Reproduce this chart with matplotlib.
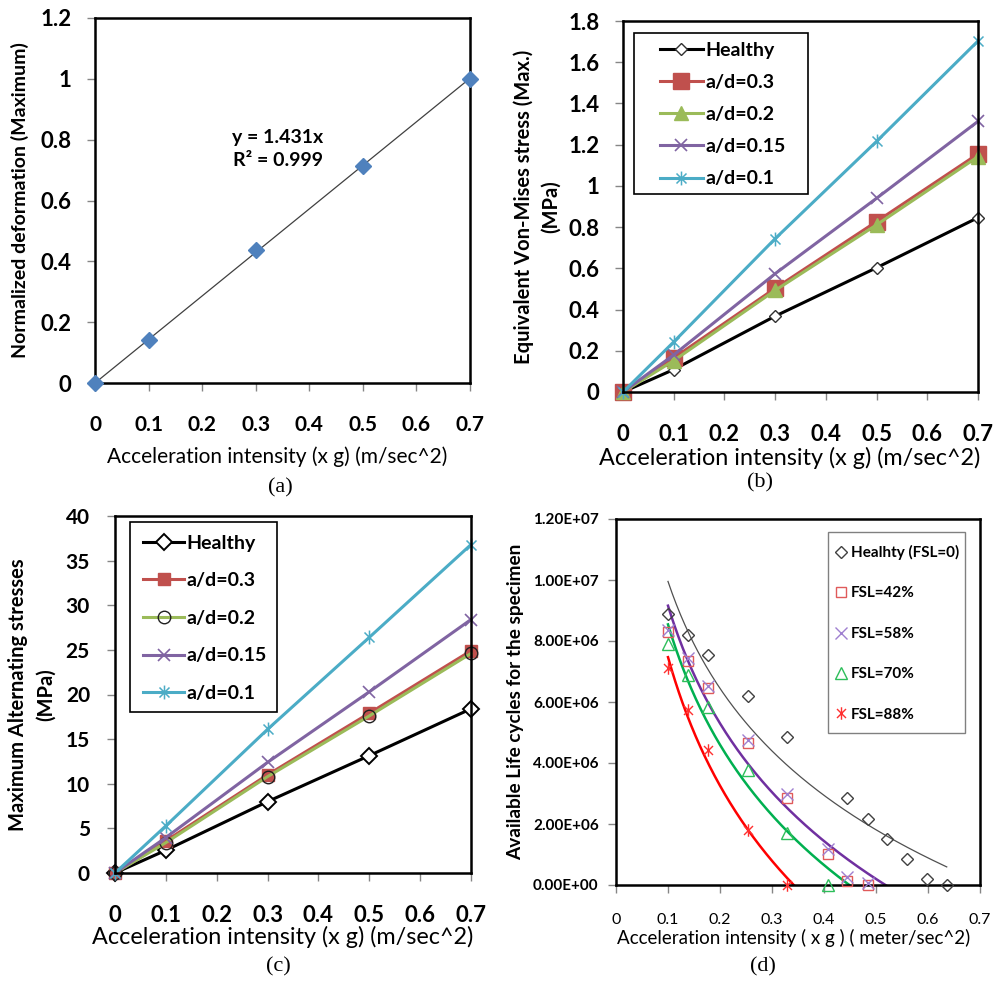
import numpy as np
import matplotlib
matplotlib.use('Agg')
import matplotlib.pyplot as plt
from matplotlib.patches import Rectangle
from matplotlib.path import Path

# ---------------- data ----------------
# (a) normalized deformation
a_x = [0, 0.1, 0.3, 0.5, 0.7]
a_y = [0, 0.142, 0.438, 0.714, 1.0]
a_slope = 1.431
a_r2 = 0.999

# (b) equivalent Von-Mises stress (MPa)
bc_x = [0, 0.1, 0.3, 0.5, 0.7]
b_healthy = [0, 0.109, 0.368, 0.603, 0.846]
b_ad03 = [0, 0.165, 0.503, 0.827, 1.155]
b_ad02 = [0, 0.152, 0.493, 0.811, 1.142]
b_ad015 = [0, 0.180, 0.574, 0.940, 1.313]
b_ad01 = [0, 0.243, 0.744, 1.216, 1.703]

# (c) maximum alternating stresses (MPa)
c_healthy = [0, 2.55, 8.0, 13.15, 18.4]
c_ad03 = [0, 3.6, 11.0, 17.9, 24.9]
c_ad02 = [0, 3.4, 10.8, 17.6, 24.6]
c_ad015 = [0, 3.97, 12.4, 20.3, 28.4]
c_ad01 = [0, 5.28, 16.1, 26.4, 36.8]
series_labels = ['Healthy', 'a/d=0.3', 'a/d=0.2', 'a/d=0.15', 'a/d=0.1']

# (d) available life cycles
d_labels = ['Healhty (FSL=0)', 'FSL=42%', 'FSL=58%', 'FSL=70%', 'FSL=88%']
d_x_healthy = [0.1, 0.138, 0.177, 0.253, 0.329, 0.445, 0.484, 0.521, 0.559, 0.598, 0.636]
d_y_healthy = [8.87e6, 8.21e6, 7.53e6, 6.19e6, 4.86e6, 2.86e6, 2.18e6, 1.52e6, 0.84e6, 0.19e6, 0.0]
d_x_42 = [0.1, 0.138, 0.177, 0.253, 0.329, 0.407, 0.445, 0.484]
d_y_42 = [8.29e6, 7.34e6, 6.46e6, 4.64e6, 2.84e6, 1.03e6, 0.13e6, 0.0]
d_x_58 = [0.1, 0.138, 0.177, 0.253, 0.329, 0.407, 0.445, 0.484]
d_y_58 = [8.37e6, 7.45e6, 6.52e6, 4.75e6, 2.99e6, 1.17e6, 0.26e6, 0.08e6]
d_x_70 = [0.1, 0.138, 0.177, 0.253, 0.329, 0.407]
d_y_70 = [7.91e6, 6.9e6, 5.84e6, 3.77e6, 1.71e6, 0.0]
d_x_88 = [0.1, 0.138, 0.177, 0.253, 0.329]
d_y_88 = [7.1e6, 5.73e6, 4.42e6, 1.79e6, 0.0]

x_ticks = [0, 0.1, 0.2, 0.3, 0.4, 0.5, 0.6, 0.7]
x_ticklabels = ['0', '0.1', '0.2', '0.3', '0.4', '0.5', '0.6', '0.7']
a_yticks = [0, 0.2, 0.4, 0.6, 0.8, 1.0, 1.2]
a_yticklabels = ['0', '0.2', '0.4', '0.6', '0.8', '1', '1.2']
b_yticks = [0, 0.2, 0.4, 0.6, 0.8, 1.0, 1.2, 1.4, 1.6, 1.8]
b_yticklabels = ['0', '0.2', '0.4', '0.6', '0.8', '1', '1.2', '1.4', '1.6', '1.8']
c_yticks = [0, 5, 10, 15, 20, 25, 30, 35, 40]
d_yticks = [0, 2e6, 4e6, 6e6, 8e6, 1e7, 1.2e7]
d_yticklabels = ['0.00E+00', '2.00E+06', '4.00E+06', '6.00E+06', '8.00E+06', '1.00E+07', '1.20E+07']

# ---------------- style ----------------
plt.rcParams['font.family'] = ['Lato', 'DejaVu Sans']

BLUE = '#4F81BD'
RED = '#C0504D'
GREEN = '#9BBB59'
PURPLE = '#8064A2'
CYAN = '#4BACC6'
# Excel-like asterisk: a cross plus a vertical bar
ASTER = Path([(0, -1), (0, 1), (-0.72, -0.72), (0.72, 0.72), (-0.72, 0.72), (0.72, -0.72)],
             [Path.MOVETO, Path.LINETO, Path.MOVETO, Path.LINETO, Path.MOVETO, Path.LINETO])

fig = plt.figure(figsize=(10, 9.82), dpi=100)
W, H = 1000.0, 982.0


def px_axes(l, t, r, b):
    return fig.add_axes([l / W, 1 - b / H, (r - l) / W, (b - t) / H])


def style(ax, xpad, ypad, xfs, yfs, xweight='bold', yweight='bold'):
    for s in ax.spines.values():
        s.set_linewidth(1.8)
        s.set_color('black')
    ax.tick_params(direction='out', length=6, width=1, color='#868686')
    ax.tick_params(axis='x', pad=xpad)
    ax.tick_params(axis='y', pad=ypad)
    for t in ax.get_xticklabels():
        t.set_fontsize(xfs)
        t.set_fontweight(xweight)
    for t in ax.get_yticklabels():
        t.set_fontsize(yfs)
        t.set_fontweight(yweight)


def frame_box(ax, x0, y0, x1, y1, color='black', lw=1.2):
    ax.add_patch(Rectangle((x0, y0), x1 - x0, y1 - y0, transform=ax.transAxes,
                           facecolor='white', edgecolor=color, lw=lw, zorder=8,
                           clip_on=False))


# ---------------- (a) ----------------
axA = px_axes(95, 18, 470, 383)
xs = np.array([0, 0.7])
axA.plot(xs, a_slope * xs, color='#404040', lw=0.9, zorder=2)
axA.plot(a_x, a_y, ls='none', marker='D', ms=8, color=BLUE, mec=BLUE, zorder=3, clip_on=False)
axA.set_xlim(0, 0.7)
axA.set_ylim(0, 1.2)
axA.set_xticks(x_ticks, x_ticklabels)
axA.set_yticks(a_yticks, a_yticklabels)
style(axA, 17, 11, 15, 16)
axA.text(0.488, 0.641, f'y = {a_slope}x\nR² = {a_r2}', transform=axA.transAxes,
         ha='center', va='center', fontsize=14, fontweight='bold', linespacing=1.45)
axA.set_xlabel('Acceleration intensity (x g) (m/sec^2)', fontsize=15)
axA.xaxis.label.set_va('center')
axA.xaxis.set_label_coords(0.487, -0.203)
axA.set_ylabel('Normalized deformation (Maximum)', fontsize=14, fontweight='bold')
axA.yaxis.label.set_va('center')
axA.yaxis.set_label_coords(-0.2, 0.5)

# ---------------- (b) ----------------
axB = px_axes(623, 21, 978, 392)
hb = []
hb += axB.plot(bc_x, b_healthy, color='black', lw=2.2, marker='D', ms=6, mfc='white', mec='#303030', mew=1, clip_on=False)
hb += axB.plot(bc_x, b_ad03, color=RED, lw=2.2, marker='s', ms=11, mfc=RED, mec=RED, clip_on=False)
hb += axB.plot(bc_x, b_ad02, color=GREEN, lw=2.2, marker='^', ms=10, mfc=GREEN, mec=GREEN, clip_on=False)
hb += axB.plot(bc_x, b_ad015, color=PURPLE, lw=2.2, marker='x', ms=9, mec=PURPLE, mew=1.2, clip_on=False)
hb += axB.plot(bc_x, b_ad01, color=CYAN, lw=2.2, marker=ASTER, ms=10, mec=CYAN, mew=1.1, clip_on=False)
axB.set_xlim(0, 0.7)
axB.set_ylim(0, 1.8)
axB.set_xticks(x_ticks, x_ticklabels)
axB.set_yticks(b_yticks, b_yticklabels)
style(axB, 17, 11, 16, 16)
axB.set_xlabel('Acceleration intensity (x g) (m/sec^2)', fontsize=16.8)
axB.xaxis.label.set_va('center')
axB.xaxis.set_label_coords(0.468, -0.178)
axB.set_ylabel('Equivalent Von-Mises stress (Max.)\n(MPa)', fontsize=14.5, fontweight='bold', linespacing=1.45)
axB.yaxis.label.set_va('center')
axB.yaxis.set_label_coords(-0.242, 0.5)
frame_box(axB, 0.031, 0.534, 0.521, 0.968)
legB = axB.legend(hb, series_labels, loc='upper left', bbox_to_anchor=(0.104, 0.944),
                  frameon=False, borderpad=0, borderaxespad=0, handlelength=2.2,
                  handletextpad=0.15, labelspacing=0.78, prop={'size': 14, 'weight': 'bold'})
legB.set_zorder(9)

# ---------------- (c) ----------------
axC = px_axes(115, 516, 471, 873)
hc = []
hc += axC.plot(bc_x, c_healthy, color='black', lw=2.2, marker='D', ms=8, mfc='white', mec='black', mew=1.4, clip_on=False)
hc += axC.plot(bc_x, c_ad03, color=RED, lw=2.2, marker='s', ms=8, mfc=RED, mec=RED, clip_on=False)
hc += axC.plot(bc_x, c_ad02, color=GREEN, lw=2.2, marker='o', ms=9, mfc='none', mec='#202020', mew=1, clip_on=False)
hc += axC.plot(bc_x, c_ad015, color=PURPLE, lw=2.2, marker='x', ms=9, mec=PURPLE, mew=1.2, clip_on=False)
hc += axC.plot(bc_x, c_ad01, color=CYAN, lw=2.2, marker=ASTER, ms=10, mec=CYAN, mew=1.1, clip_on=False)
axC.set_xlim(0, 0.7)
axC.set_ylim(0, 40)
axC.set_xticks(x_ticks, x_ticklabels)
axC.set_yticks(c_yticks)
style(axC, 17, 12, 16, 15)
axC.set_xlabel('Acceleration intensity (x g) (m/sec^2)', fontsize=16.8)
axC.xaxis.label.set_va('center')
axC.xaxis.set_label_coords(0.472, -0.179)
axC.set_ylabel('Maximum Alternating stresses\n(MPa)', fontsize=14.5, fontweight='bold', linespacing=1.45)
axC.yaxis.label.set_va('center')
axC.yaxis.set_label_coords(-0.233, 0.5)
frame_box(axC, 0.042, 0.451, 0.455, 0.983)
legC = axC.legend(hc, series_labels, loc='upper left', bbox_to_anchor=(0.079, 0.948),
                  frameon=False, borderpad=0, borderaxespad=0, handlelength=2.1,
                  handletextpad=0.15, labelspacing=1.06, prop={'size': 14, 'weight': 'bold'})
legC.set_zorder(9)

# ---------------- (d) ----------------
axD = px_axes(616, 519, 980, 885)


def log_trend(xv, yv, forecast):
    coef = np.polyfit(np.log(xv), yv, 1)
    xx = np.linspace(min(xv), max(xv) + forecast, 200)
    return xx, coef[0] * np.log(xx) + coef[1]


tx, ty = log_trend(d_x_healthy, d_y_healthy, 0.0)
axD.plot(tx, ty, color='#505050', lw=0.9, zorder=2)
tx, ty = log_trend(d_x_58, d_y_58, 0.05)
axD.plot(tx, ty, color='#7030A0', lw=1.8, zorder=2)
tx, ty = log_trend(d_x_70, d_y_70, 0.06)
axD.plot(tx, ty, color='#00B050', lw=1.8, zorder=2)
tx, ty = log_trend(d_x_88, d_y_88, 0.05)
axD.plot(tx, ty, color='#FF0000', lw=1.8, zorder=2)

hd = []
hd += axD.plot(d_x_healthy, d_y_healthy, ls='none', marker='D', ms=6.5, mfc='none', mec='#404040', mew=1, clip_on=False, zorder=3)
hd += axD.plot(d_x_42, d_y_42, ls='none', marker='s', ms=7, mfc='none', mec='#E05A5A', mew=1, clip_on=False, zorder=3)
hd += axD.plot(d_x_58, d_y_58, ls='none', marker='x', ms=9, mec='#9F80D0', mew=1, clip_on=False, zorder=3)
hd += axD.plot(d_x_70, d_y_70, ls='none', marker='^', ms=8.5, mfc='none', mec='#2DBE5A', mew=1, clip_on=False, zorder=3)
hd += axD.plot(d_x_88, d_y_88, ls='none', marker=ASTER, ms=9, mec='#FF3030', mew=1, clip_on=False, zorder=3)
axD.set_xlim(0, 0.7)
axD.set_ylim(0, 1.2e7)
axD.set_xticks(x_ticks, x_ticklabels)
axD.set_yticks(d_yticks, d_yticklabels)
style(axD, 14, 6.5, 11.5, 11, xweight='normal')
axD.set_xlabel('Acceleration intensity ( x g ) ( meter/sec^2)', fontsize=13.5)
axD.xaxis.label.set_va('center')
axD.xaxis.set_label_coords(0.488, -0.145)
axD.set_ylabel('Available Life cycles for the specimen', fontsize=13.7, fontweight='bold')
axD.yaxis.label.set_va('center')
axD.yaxis.set_label_coords(-0.277, 0.5)
frame_box(axD, 0.582, 0.415, 0.959, 0.964, color='#808080', lw=1)
legD = axD.legend(hd, d_labels, loc='upper left', bbox_to_anchor=(0.602, 0.929),
                  frameon=False, borderpad=0, borderaxespad=0, handlelength=0.8,
                  handletextpad=0.25, labelspacing=1.73, prop={'size': 11, 'weight': 'bold'})
legD.set_zorder(9)

# ---------------- captions ----------------
for (cx, cy, txt) in [(280, 488, '(a)'), (760, 483, '(b)'), (278, 967, '(c)'), (763, 967, '(d)')]:
    fig.text(cx / W, 1 - cy / H, txt, ha='center', va='center', fontsize=16,
             family='Liberation Serif')

fig.savefig('out.png', dpi=100, facecolor='white')
